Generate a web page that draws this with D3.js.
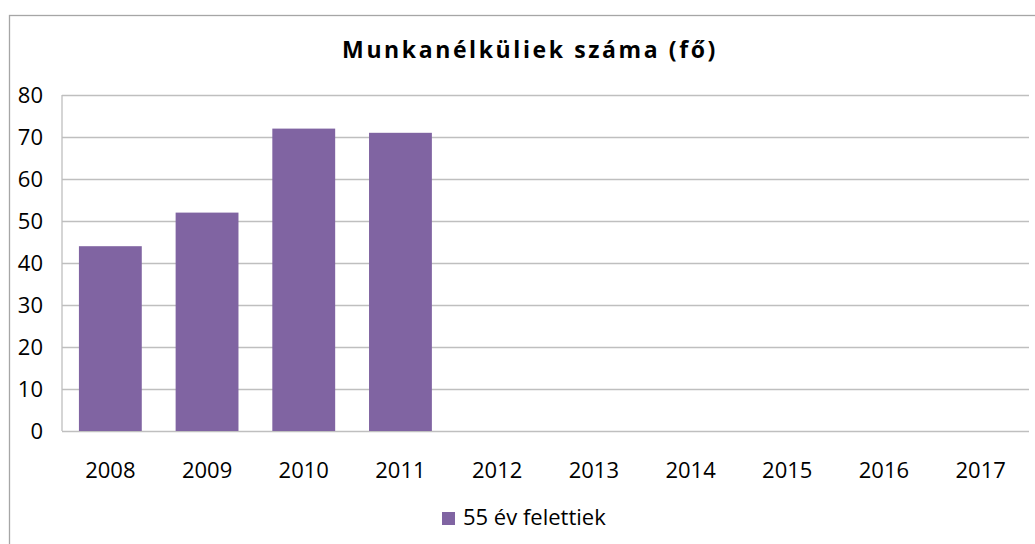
<!DOCTYPE html>
<html>
<head>
<meta charset="utf-8">
<script src="https://cdn.jsdelivr.net/npm/d3@7"></script>
<style>
  body { margin: 0; background: #fff; }
  #chart { width: 1035px; height: 544px; }
  text { font-family: "Open Sans", "Noto Sans", sans-serif; fill: #000; }
  .axis path, .axis line { display: none; }
  .grid line { stroke: #bfbfbf; stroke-width: 1.3; }
  .grid path { display: none; }
</style>
</head>
<body>
<div id="chart"></div>
<script>
// Data
var years = ["2008", "2009", "2010", "2011", "2012", "2013", "2014", "2015", "2016", "2017"];
var over55 = [44, 52, 72, 71, null, null, null, null, null, null];
var yTicks = [0, 10, 20, 30, 40, 50, 60, 70, 80];
var seriesName = "55 év felettiek";
var title = "Munkanélküliek száma (fő)";

var barColor = "#8064a2";

var render = function() {
  var width = 1035, height = 544;
  var margins = { top: 95, right: 6, bottom: 113, left: 62 };
  var chartWidth = width - margins.left - margins.right;
  var chartHeight = height - margins.top - margins.bottom;

  var svg = d3.select("#chart").html("")
    .append("svg")
    .attr("width", width)
    .attr("height", height);

  // outer frame
  svg.append("rect")
    .attr("x", 9.5).attr("y", 15.5)
    .attr("width", 1040).attr("height", 560)
    .attr("fill", "none")
    .attr("stroke", "#a6a6a6")
    .attr("stroke-width", 1.3);

  svg.append("text")
    .attr("x", 530).attr("y", 58)
    .attr("text-anchor", "middle")
    .style("font-size", "23px")
    .style("font-weight", "bold")
    .style("letter-spacing", "2.6px")
    .text(title);

  var chartElement = svg.append("g")
    .attr("transform", `translate(${margins.left},${margins.top})`);

  var xScale = d3.scaleBand()
    .domain(years)
    .range([0, chartWidth])
    .paddingInner(0.35)
    .paddingOuter(0.175);

  var yScale = d3.scaleLinear()
    .domain([0, 80])
    .range([chartHeight, 0]);

  // grid
  chartElement.append("g")
    .attr("class", "grid")
    .call(d3.axisLeft(yScale).tickValues(yTicks).tickSize(-chartWidth).tickFormat(""));

  chartElement.append("line")
    .attr("x1", 0).attr("x2", 0)
    .attr("y1", 0).attr("y2", chartHeight)
    .attr("stroke", "#bfbfbf")
    .attr("stroke-width", 1.3);

  // bars
  chartElement.append("g")
    .selectAll("rect")
    .data(years.map((y, i) => ({ year: y, value: over55[i] })).filter(d => d.value != null))
    .enter()
    .append("rect")
    .attr("x", d => xScale(d.year))
    .attr("width", xScale.bandwidth())
    .attr("y", d => yScale(d.value))
    .attr("height", d => chartHeight - yScale(d.value))
    .attr("fill", barColor);

  // axes
  var yAxis = chartElement.append("g")
    .attr("class", "axis y")
    .call(d3.axisLeft(yScale).tickValues(yTicks).tickSize(0).tickPadding(19));
  yAxis.selectAll("text").style("font-size", "22px");

  var xAxis = chartElement.append("g")
    .attr("class", "axis x")
    .attr("transform", `translate(0,${chartHeight})`)
    .call(d3.axisBottom(xScale).tickSize(0).tickPadding(31));
  xAxis.selectAll("text").style("font-size", "22px");

  // legend
  var legend = svg.append("g").attr("transform", "translate(442,512)");
  legend.append("rect")
    .attr("width", 13).attr("height", 13)
    .attr("fill", barColor);
  legend.append("text")
    .attr("x", 21).attr("y", 13)
    .style("font-size", "22px")
    .text(seriesName);
};

render();
</script>
</body>
</html>
